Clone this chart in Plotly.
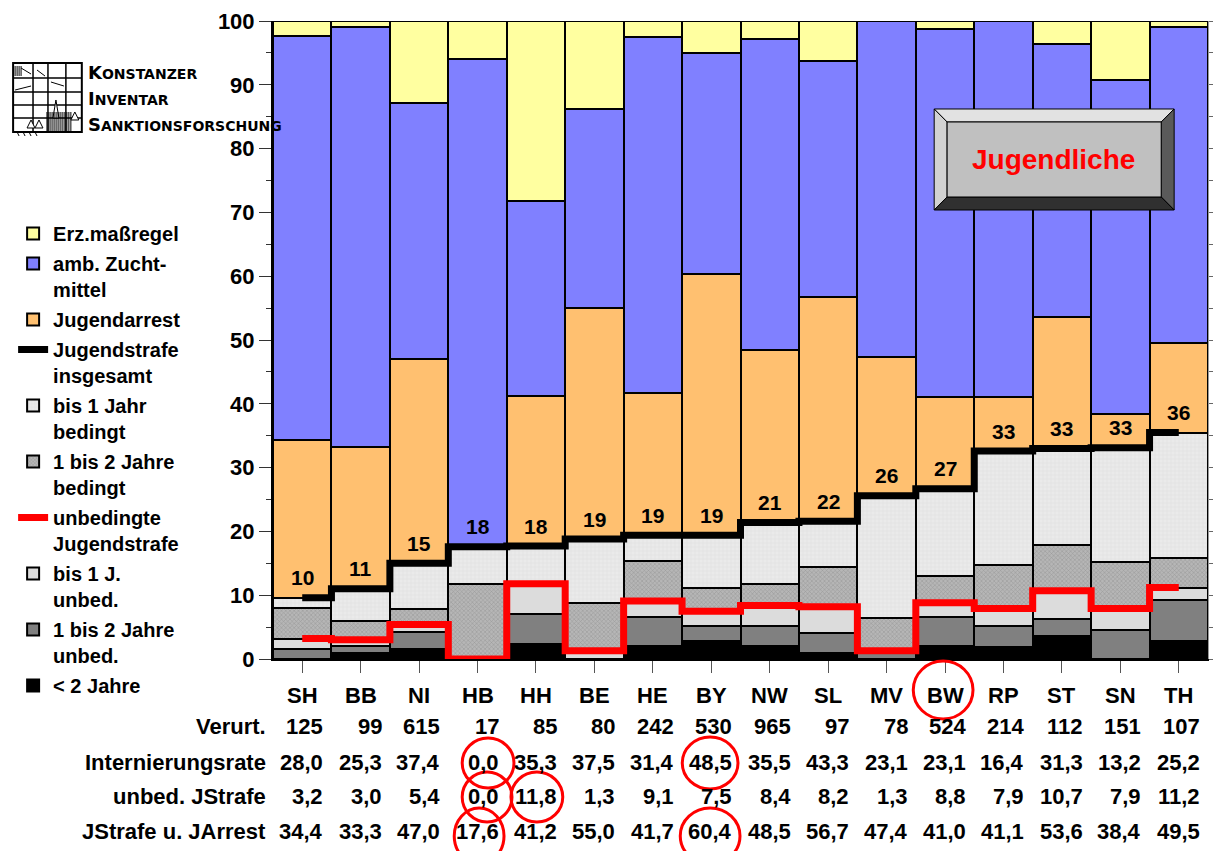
import plotly.graph_objects as go

# ---------------------------------------------------------------- data
laender = ["SH", "BB", "NI", "HB", "HH", "BE", "HE", "BY",
           "NW", "SL", "MV", "BW", "RP", "ST", "SN", "TH"]

verurteilte = [125, 99, 615, 17, 85, 80, 242, 530, 965, 97, 78, 524, 214, 112, 151, 107]
internierungsrate = [28.0, 25.3, 37.4, 0.0, 35.3, 37.5, 31.4, 48.5,
                     35.5, 43.3, 23.1, 23.1, 16.4, 31.3, 13.2, 25.2]
unbed_jstrafe = [3.2, 3.0, 5.4, 0.0, 11.8, 1.3, 9.1, 7.5,
                 8.4, 8.2, 1.3, 8.8, 7.9, 10.7, 7.9, 11.2]
jstrafe_jarrest = [34.4, 33.3, 47.0, 17.6, 41.2, 55.0, 41.7, 60.4,
                   48.5, 56.7, 47.4, 41.0, 41.1, 53.6, 38.4, 49.5]
jstrafe_gesamt = [9.6, 11.0, 15.0, 17.6, 17.7, 18.8, 19.4, 19.4,
                  21.4, 21.6, 25.6, 26.7, 32.6, 33.0, 33.1, 35.5]

# stacked shares in % of all convicted juveniles, bottom to top
ueber_2_jahre = [0.0, 1.0, 1.5, 0.0, 2.4, 0.0, 2.1, 2.8, 2.1, 1.0, 0.0, 2.0, 1.9, 3.6, 0.0, 2.8]
unbed_1_2 = [1.6, 1.0, 2.8, 0.0, 4.7, 0.0, 4.5, 2.3, 3.0, 3.1, 1.3, 4.6, 3.3, 2.7, 4.6, 6.5]
unbed_bis_1 = [1.6, 1.0, 1.1, 0.0, 4.7, 1.3, 2.5, 2.4, 3.3, 4.1, 0.0, 2.2, 2.7, 4.4, 3.3, 1.9]
bed_1_2 = [4.8, 3.0, 2.4, 11.8, 0.0, 7.5, 6.2, 3.7, 3.4, 6.2, 5.1, 4.2, 6.8, 7.1, 7.3, 4.7]
bed_bis_1 = [1.6, 5.0, 7.2, 5.8, 5.9, 10.0, 4.1, 8.2, 9.6, 7.2, 19.2, 13.7, 17.9, 15.2, 17.9, 19.6]
jugendarrest = [24.8, 22.3, 32.0, 0.0, 23.5, 36.2, 22.3, 41.0,
                27.1, 35.1, 21.8, 14.3, 8.5, 20.6, 5.3, 14.0]
zuchtmittel = [63.2, 65.7, 40.1, 76.5, 30.6, 31.2, 55.8, 34.6,
               48.7, 37.1, 52.6, 57.7, 58.9, 42.8, 52.3, 49.6]
erziehungsmassregel = [2.4, 1.0, 12.9, 5.9, 28.2, 13.8, 2.5, 5.0,
                       2.8, 6.2, 0.0, 1.3, 0.0, 3.6, 9.3, 0.9]

FONT = "Liberation Sans, Arial, sans-serif"

# plot area in page pixels
PL, PR, PT, PB = 273, 1212, 21, 659
W, H = 1220, 851


def px(x):
    return (x - PL) / (PR - PL)


def py(y):
    return (PB - y) / (PB - PT)


def de(v):
    return f"{v:.1f}".replace(".", ",")


fig = go.Figure()

edge = dict(color="black", width=2)
segments = [
    ("< 2 Jahre", ueber_2_jahre, dict(color="#000000", line=edge), 10),
    ("1 bis 2 Jahre<br>unbed.", unbed_1_2, dict(color="#808080", line=edge), 9),
    ("bis 1 J.<br>unbed.", unbed_bis_1, dict(color="#DCDCDC", line=edge), 8),
    ("1 bis 2 Jahre<br>bedingt", bed_1_2,
     dict(color="#A8A8A8", line=edge,
          pattern=dict(shape="x", fgcolor="#7C7C7C", bgcolor="#B6B6B6", size=3, solidity=0.35)), 6),
    ("bis 1 Jahr<br>bedingt", bed_bis_1,
     dict(color="#E8E8E8", line=edge,
          pattern=dict(shape="+", fgcolor="#C2C2C2", bgcolor="#EAEAEA", size=4, solidity=0.15)), 5),
    ("Jugendarrest", jugendarrest, dict(color="#FFC070", line=edge), 3),
    ("amb. Zucht-<br>mittel", zuchtmittel, dict(color="#8080FF", line=edge), 2),
    ("Erz.maßregel", erziehungsmassregel, dict(color="#FFFFA0", line=edge), 1),
]

for name, vals, marker, rank in segments:
    fig.add_trace(go.Bar(x=laender, y=vals, name=name, marker=marker,
                         legendrank=rank, legendgroup=f"g{rank}", hoverinfo="skip"))

fig.add_trace(go.Scatter(x=laender, y=jstrafe_gesamt, name="Jugendstrafe<br>insgesamt",
                         mode="lines", line=dict(color="black", width=7, shape="hvh"),
                         legendrank=4, legendgroup="g4", hoverinfo="skip"))
fig.add_trace(go.Scatter(x=laender, y=unbed_jstrafe, name="unbedingte<br>Jugendstrafe",
                         mode="lines", line=dict(color="#FF0000", width=7, shape="hvh"),
                         legendrank=7, legendgroup="g7", hoverinfo="skip"))
# carrier for the right-hand tick axis
fig.add_trace(go.Scatter(x=[laender[0]], y=[0], yaxis="y2", mode="markers",
                         marker=dict(opacity=0), showlegend=False, hoverinfo="skip"))

ann = []
# rounded totals above the black step line
for land, v in zip(laender, jstrafe_gesamt):
    ann.append(dict(x=land, y=v, xref="x", yref="y", text=str(int(v + 0.5)),
                    showarrow=False, yshift=20, yanchor="middle",
                    font=dict(family=FONT, size=21, color="black", weight="bold")))

# table below the chart
rows = [
    (None, [str(v) for v in laender], 695),
    ("Verurt.", [str(v) for v in verurteilte], 727),
    ("Internierungsrate", [de(v) for v in internierungsrate], 762),
    ("unbed. JStrafe", [de(v) for v in unbed_jstrafe], 797),
    ("JStrafe u. JArrest", [de(v) for v in jstrafe_jarrest], 831),
]
tfont = dict(family=FONT, size=22, color="black", weight="bold")
for label, cells, ypix in rows:
    if label is not None:
        ann.append(dict(x=px(268), y=py(ypix), xref="paper", yref="paper", text=label,
                        showarrow=False, xanchor="right", yanchor="middle", font=tfont))
    for land, c in zip(laender, cells):
        if label is None:
            ann.append(dict(x=land, y=py(ypix), xref="x", yref="paper", text=c,
                            showarrow=False, xanchor="center", yanchor="middle", font=tfont))
        else:
            ann.append(dict(x=land, y=py(ypix), xref="x", yref="paper", text=c,
                            showarrow=False, xanchor="right", xshift=23, yanchor="middle",
                            font=tfont))

# institute logo text
small = "<span style='font-size:14px'>{}</span>"
for big, rest, ypix in [("K", "ONSTANZER", 72), ("I", "NVENTAR", 99), ("S", "ANKTIONSFORSCHUNG", 125)]:
    ann.append(dict(x=px(85), y=py(ypix), xref="paper", yref="paper",
                    text=big + small.format(rest), showarrow=False,
                    xanchor="left", yanchor="middle",
                    font=dict(family="DejaVu Sans, sans-serif", size=18, color="black",
                              weight="bold")))

# button label
ann.append(dict(x=px(1057), y=py(160), xref="paper", yref="paper", text="Jugendliche",
                showarrow=False, xanchor="center", yanchor="middle",
                font=dict(family=FONT, size=28, color="#FF0000", weight="bold")))

shapes = []


def poly(points, fill, line_color="black", lw=1):
    path = "M " + " L ".join(f"{px(x):.5f},{py(y):.5f}" for x, y in points) + " Z"
    shapes.append(dict(type="path", path=path, xref="paper", yref="paper",
                       fillcolor=fill, line=dict(color=line_color, width=lw), layer="above"))


def seg(x0, y0, x1, y1, color="black", lw=1):
    shapes.append(dict(type="line", x0=px(x0), y0=py(y0), x1=px(x1), y1=py(y1),
                       xref="paper", yref="paper", line=dict(color=color, width=lw),
                       layer="above"))


# bevelled "Jugendliche" button
ox0, oy0, ox1, oy1 = 937, 109, 1178, 210
ix0, iy0, ix1, iy1 = 950, 122, 1165, 197
poly([(ox0, oy0), (ox1, oy0), (ix1, iy0), (ix0, iy0)], "#E2E2E2")
poly([(ox0, oy0), (ix0, iy0), (ix0, iy1), (ox0, oy1)], "#D2D2D2")
poly([(ox1, oy0), (ox1, oy1), (ix1, iy1), (ix1, iy0)], "#5A5A5A")
poly([(ox0, oy1), (ix0, iy1), (ix1, iy1), (ox1, oy1)], "#303030")
poly([(ix0, iy0), (ix1, iy0), (ix1, iy1), (ix0, iy1)], "#C0C0C0")

# logo: framed grid with a church tower sketch
poly([(12, 63), (81, 63), (81, 132), (12, 132)], "rgba(0,0,0,0)", lw=2)
for xv in (32, 47, 65):
    seg(xv, 63, xv, 132, lw=1.5)
for yh in (78, 92, 105, 118):
    seg(12, yh, 81, yh, lw=1.5)
poly([(52, 118), (55, 100), (58, 118)], "white", lw=1)
for xv in range(46, 72, 2):
    seg(xv, 112, xv, 132, lw=1)
for xv in range(14, 22, 2):
    seg(xv, 66, xv, 76, lw=1)
seg(20, 68, 30, 74)
seg(36, 70, 44, 76)
seg(14, 90, 30, 86)
seg(50, 82, 63, 86)
poly([(70, 120), (74, 112), (78, 120)], "white", lw=1)
poly([(26, 128), (30, 120), (34, 128)], "white", lw=1)
poly([(34, 128), (38, 120), (42, 128)], "white", lw=1)
for xv in (16, 22, 28, 34):
    seg(xv, 132, xv + 2, 136, lw=1)

# red highlight circles
for cx, cy, rx, ry in [(946, 690, 30, 29), (489, 763, 26, 25), (488, 797, 25, 25),
                       (538, 797, 26, 25), (480, 836, 25, 28), (712, 763, 28, 26),
                       (712, 836, 30, 28)]:
    shapes.append(dict(type="circle", xref="paper", yref="paper",
                       x0=px(cx - rx), x1=px(cx + rx), y0=py(cy + ry), y1=py(cy - ry),
                       line=dict(color="#FF0000", width=3), layer="above"))

fig.update_layout(
    width=W, height=H,
    margin=dict(l=PL, r=W - PR, t=PT, b=H - PB, pad=0),
    paper_bgcolor="white", plot_bgcolor="white",
    barmode="stack", bargap=0,
    font=dict(family=FONT, color="black"),
    showlegend=True,
    legend=dict(x=px(12), y=py(214), xanchor="left", yanchor="top",
                font=dict(family=FONT, size=20, color="black", weight="bold"),
                tracegroupgap=1, valign="top", bgcolor="rgba(0,0,0,0)",
                traceorder="grouped", itemclick=False, itemdoubleclick=False),
    xaxis=dict(type="category", range=[-0.5, 15.5], showticklabels=False,
               ticks="outside", ticklen=12, tickcolor="#555", tickwidth=1,
               showline=True, linecolor="black", linewidth=2, showgrid=False,
               zeroline=False, fixedrange=True),
    yaxis=dict(range=[0, 100], tickmode="linear", tick0=0, dtick=10,
               ticks="outside", ticklen=12, tickwidth=1, tickcolor="#333",
               tickfont=dict(family=FONT, size=22, color="black", weight="bold"),
               minor=dict(dtick=5, ticks="outside", ticklen=5, tickcolor="#333"),
               showgrid=False, showline=True, linecolor="black", linewidth=2,
               zeroline=False, fixedrange=True),
    yaxis2=dict(range=[0, 100], overlaying="y", side="right", tickmode="linear",
                tick0=0, dtick=5, ticks="outside", ticklen=4, tickcolor="#666",
                showticklabels=False, showgrid=False, showline=True,
                linecolor="#999", linewidth=1, zeroline=False, fixedrange=True),
    annotations=ann,
    shapes=shapes,
)

fig.write_html("out.html")
